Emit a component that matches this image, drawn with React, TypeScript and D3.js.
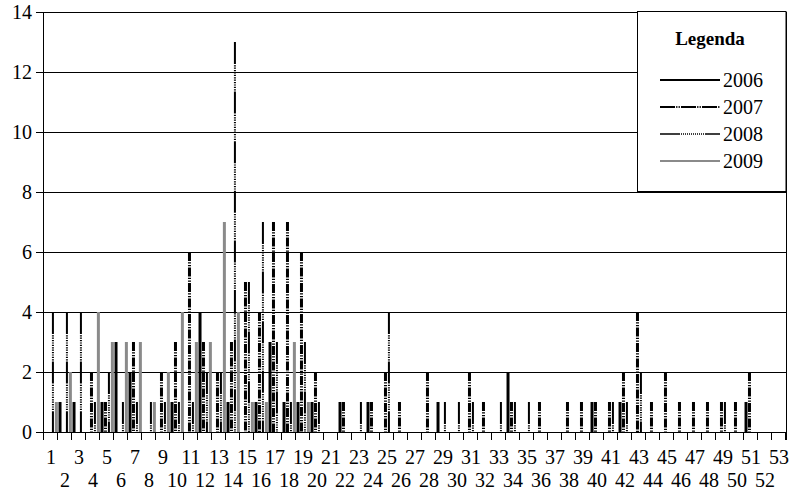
import React from 'react';
import * as d3 from 'd3';

// ---- data ----
const weeks = [1,2,3,4,5,6,7,8,9,10,11,12,13,14,15,16,17,18,19,20,21,22,23,24,25,26,27,28,29,30,31,32,33,34,35,36,37,38,39,40,41,42,43,44,45,46,47,48,49,50,51,52,53];
const years = ['2006', '2007', '2008', '2009'];
const v2006 = [0,1,1,0,1,3,2,0,0,1,0,4,0,1,0,1,3,1,1,1,0,1,0,1,0,0,0,0,1,0,0,0,0,2,0,0,0,0,0,1,0,1,0,0,0,0,0,0,0,0,1,0,0];
const v2007 = [0,0,0,2,1,0,3,0,2,3,6,3,2,3,5,4,7,7,6,2,0,1,0,1,2,1,0,2,0,0,2,1,0,1,0,1,0,1,1,1,1,2,4,1,2,1,1,1,1,1,2,0,0];
const v2008 = [4,4,4,1,2,1,1,1,1,1,1,2,2,13,5,7,3,1,3,1,0,0,1,0,4,0,0,0,1,1,1,0,1,1,1,0,0,0,0,0,1,1,2,0,0,0,0,0,1,0,0,0,0];
const v2009 = [1,2,0,4,3,3,3,1,2,4,3,3,7,4,1,1,0,3,1,0,0,0,0,0,0,0,0,0,0,0,0,0,0,0,0,0,0,0,0,0,0,0,0,0,0,0,0,0,0,0,0,0,0];
const yTicks = [0, 2, 4, 6, 8, 10, 12, 14];
const legendTitle = 'Legenda';

const seriesValues: Record<string, number[]> = { '2006': v2006, '2007': v2007, '2008': v2008, '2009': v2009 };

// ---- styles ----
const dots = (n: number, s: number) => Array(n).fill(`${s},${s}`).join(',');
const barStyle: Record<string, { color: string; width: number; dash?: string }> = {
  '2006': { color: '#000', width: 3 },
  '2007': { color: '#000', width: 3, dash: '9,1.3,1.3,1.3,1.3,1.3' },
  '2008': { color: '#000', width: 2, dash: `22,1.2,${dots(11, 1.2)}` },
  '2009': { color: '#8a8a8a', width: 3 },
};
const legendStyle: Record<string, { color: string; width: number; dash?: string }> = {
  '2006': { color: '#000', width: 2.2 },
  '2007': { color: '#000', width: 1.8, dash: '15,1.2,1.2,1.2,1.2,1.2' },
  '2008': { color: '#000', width: 1.4, dash: `20,1,${dots(12, 1)}` },
  '2009': { color: '#8a8a8a', width: 2.2 },
};

const W = 794, H = 494;
const M = { left: 44, right: 786, top: 12, bottom: 432 };
const FONT = '"Liberation Serif", "Times New Roman", serif';

export default function App() {
  const x = d3.scaleBand<number>().domain(weeks).range([M.left, M.right]).paddingInner(0).paddingOuter(0);
  const bw = x.bandwidth();
  const xs = d3.scaleBand<string>().domain(years).range([0.3, bw + 0.1]).padding(0);
  const y = d3.scaleLinear().domain([0, 14]).range([M.bottom, M.top]);

  const tickXs = weeks.map((w) => x(w)!).concat([M.right]);

  const legend = { x: 637.5, y: 11.5, w: M.right - 637.5, h: 180 };

  return (
    <svg width={W} height={H} style={{ position: 'absolute', left: 0, top: 0, background: '#fff' }} fontFamily={FONT}>
      <rect x={0} y={0} width={W} height={H} fill="#fff" />
      {/* gridlines */}
      {yTicks.map((t) => (
        <line key={'g' + t} x1={M.left - 8} x2={M.right} y1={Math.round(y(t)) + 0.5} y2={Math.round(y(t)) + 0.5} stroke="#000" strokeWidth={1} />
      ))}
      {/* y labels */}
      {yTicks.map((t) => (
        <text key={'yl' + t} x={32} y={y(t) + 7} textAnchor="end" fontSize={20} fill="#000">{t}</text>
      ))}
      {/* right border */}
      <line x1={M.right + 0.5} x2={M.right + 0.5} y1={M.top} y2={M.bottom + 8} stroke="#000" strokeWidth={1} />
      {/* bars */}
      {years.map((yr) =>
        seriesValues[yr].map((v, i) => {
          if (!v) return null;
          const st = barStyle[yr];
          const cx = x(weeks[i])! + xs(yr)! + xs.bandwidth() / 2;
          return (
            <line key={yr + '-' + i} x1={cx} x2={cx} y1={y(v)} y2={y(0)} stroke={st.color} strokeWidth={st.width}
              strokeDasharray={st.dash} strokeLinecap="butt" />
          );
        })
      )}
      {/* x axis */}
      <line x1={M.left - 8} x2={M.right} y1={M.bottom + 0.5} y2={M.bottom + 0.5} stroke="#000" strokeWidth={1} />
      <line x1={M.left - 0.5} x2={M.left - 0.5} y1={M.top} y2={M.bottom + 8} stroke="#000" strokeWidth={1} />
      {tickXs.map((tx, i) => (
        <line key={'t' + i} x1={Math.round(tx) - 0.5} x2={Math.round(tx) - 0.5} y1={M.bottom} y2={M.bottom + 8} stroke="#000" strokeWidth={1} />
      ))}
      {weeks.map((w) => (
        <text key={'xl' + w} x={x(w)! + bw / 2} y={w % 2 === 1 ? 464 : 487} textAnchor="middle" fontSize={20} fill="#000">{w}</text>
      ))}
      {/* legend */}
      <rect x={legend.x} y={legend.y} width={legend.w} height={legend.h} fill="#fff" stroke="#000" strokeWidth={1} />
      <text x={710} y={45} textAnchor="middle" fontSize={19} fontWeight="bold" fill="#000">{legendTitle}</text>
      {years.map((yr, i) => {
        const st = legendStyle[yr];
        const ly = 80 + i * 27;
        return (
          <g key={'lg' + yr}>
            <line x1={660} x2={720} y1={ly} y2={ly} stroke={st.color} strokeWidth={st.width} strokeDasharray={st.dash} />
            <text x={723} y={ly + 7} fontSize={20} fill="#000">{yr}</text>
          </g>
        );
      })}
    </svg>
  );
}
